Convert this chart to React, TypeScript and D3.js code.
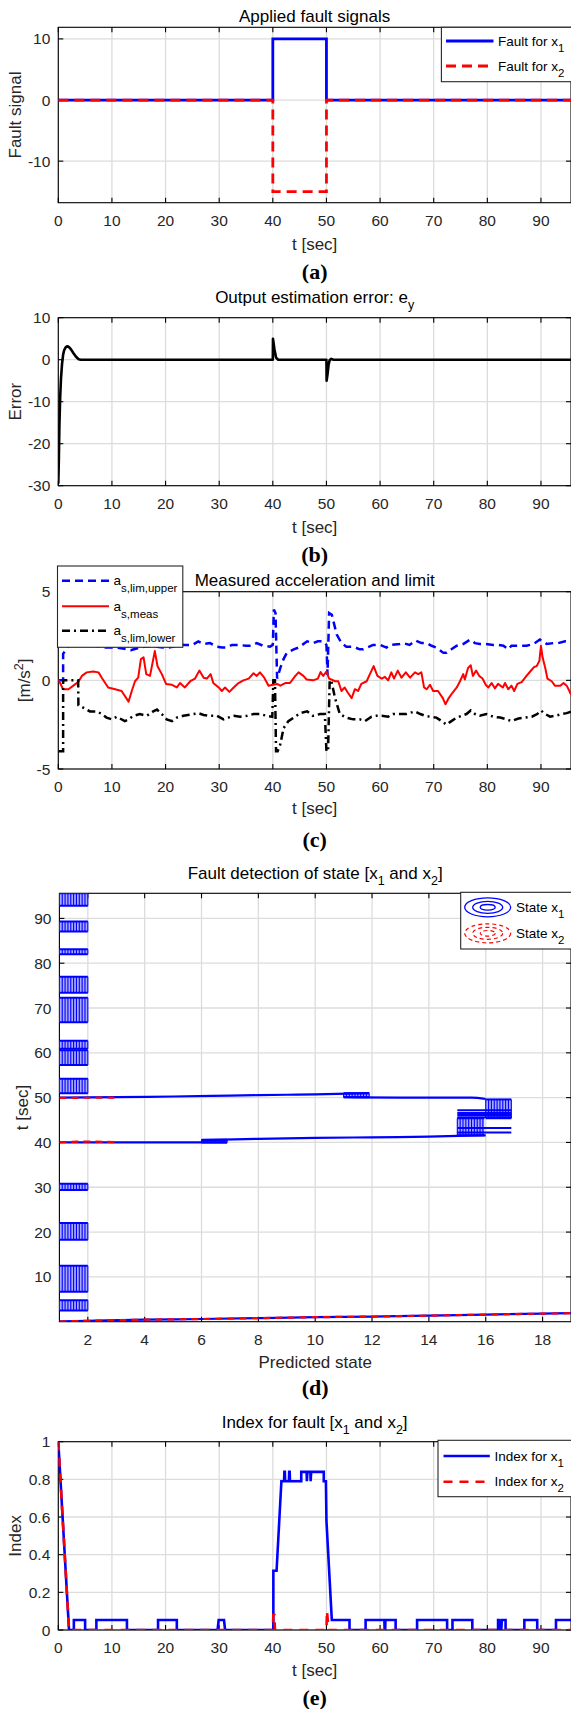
import React from 'react';
import * as d3 from 'd3';

type Pt = [number, number];
type Part = { t: string; sub?: boolean; sup?: boolean };

// ---------------- DATA ----------------
const tEnd = 95.6;
const timeTicks = [0, 10, 20, 30, 40, 50, 60, 70, 80, 90];

// (a) applied fault signals
const faultT = [0, 40, 40, 50, 50, 95.6];
const faultX1 = [0, 0, 10, 10, 0, 0];
const faultX2 = [0, 0, -15, -15, 0, 0];
const faultYTicks = [-10, 0, 10];
const faultYDomain = [-16.8, 11.9];

// (b) output estimation error
const errorEy: Pt[] = [
  [0, -29.5], [0.1, -24], [0.2, -16], [0.35, -9], [0.5, -4.5], [0.7, -1], [0.9, 1.2], [1.1, 2.3],
  [1.4, 3.0], [1.7, 3.2], [2.0, 3.0], [2.4, 2.4], [2.8, 1.6], [3.3, 0.7], [3.8, 0.1], [4.2, 0],
  [40.0, 0], [40.03, 5.0], [40.3, 2.5], [40.6, 0.5], [41.0, 0], [50.0, 0], [50.03, -5.0],
  [50.2, -3.5], [50.4, -1.2], [50.6, -0.1], [50.9, 0.2], [51.3, 0], [95.6, 0],
];
const errorYTicks = [-30, -20, -10, 0, 10];

// (c) measured acceleration and limits
const accUpper: Pt[] = [
  [0, 0], [0.9, 0], [0.9, 1.5], [2, 2.0], [4, 2.0], [6, 2.0], [8.7, 1.85], [10.6, 1.85], [12, 1.8],
  [13.5, 1.7], [14.6, 1.8], [16, 1.9], [17.5, 1.95], [18.4, 1.9], [19.5, 1.85], [20.5, 1.85],
  [21.5, 1.9], [22.4, 2.05], [23.5, 2.0], [25, 2.0], [26.1, 2.2], [27, 2.05], [28.3, 2.1],
  [29.5, 1.9], [30.5, 1.85], [31.4, 1.85], [32.4, 2.0], [33.6, 2.0], [35, 1.95], [36, 1.95],
  [37, 2.1], [38.2, 1.95], [39.5, 1.9], [40.0, 2.0], [40.2, 4.0], [40.5, 3.8], [40.8, 0.1],
  [41.4, 0.7], [42.0, 1.2], [42.6, 1.55], [43.9, 1.75], [44.8, 1.85], [46.4, 2.2], [47.5, 2.1],
  [48.4, 2.2], [49.4, 2.2], [50.0, 2.0], [50.2, 0.3], [50.5, 3.8], [51.0, 3.7], [51.9, 2.6],
  [52.8, 2.1], [53.7, 1.9], [55.0, 1.9], [56.2, 1.75], [56.8, 1.75], [58.7, 2.0], [60.0, 2.0],
  [61.2, 1.85], [61.8, 2.0], [63.7, 2.05], [64.3, 2.1], [65.5, 2.0], [66.6, 2.25], [67.7, 2.1],
  [68.7, 2.1], [69.6, 1.95], [70.5, 1.85], [71.8, 1.55], [72.4, 1.55], [73.3, 1.75], [74.3, 1.95],
  [75.5, 2.05], [76.8, 2.3], [77.7, 2.1], [78.6, 2.05], [79.6, 2.05], [81.1, 2.0], [82, 2.0],
  [83, 1.95], [83.9, 1.75], [84.5, 1.95], [86, 1.95], [87.3, 1.95], [88.6, 2.05], [89.8, 2.3],
  [91.1, 2.05], [92.3, 2.1], [93.2, 2.1], [94.5, 2.2], [95.6, 2.2],
];
const accMeas: Pt[] = [
  [0, 0.05], [0.9, -0.5], [1.9, -0.5], [2.8, -0.3], [3.7, -0.1], [4.4, 0.25], [5.3, 0.45], [6.5, 0.5],
  [7.5, 0.45], [8.1, 0.15], [9.3, -0.4], [10.6, -0.5], [11.8, -0.6], [13.1, -1.2], [13.7, -0.6],
  [14.3, -0.05], [14.9, 0.15], [15.4, 1.2], [15.9, 1.3], [16.4, 0.35], [17.1, 0.25], [18.0, 1.65],
  [18.5, 0.8], [19.3, 0.35], [20.1, -0.2], [21.2, -0.25], [22.1, -0.4], [22.7, -0.15], [23.6, -0.4],
  [24.6, -0.05], [25.5, 0.1], [26.3, 0.55], [27.1, 0.15], [27.7, 0.1], [28.4, 0.35], [28.9, -0.15],
  [29.9, -0.4], [30.5, -0.6], [31.1, -0.4], [31.9, -0.65], [32.7, -0.4], [33.6, -0.15], [34.5, 0],
  [35.5, 0.1], [36.4, 0.4], [37.0, 0.25], [37.6, 0.45], [38.4, 0.15], [39.2, -0.3], [40.0, -0.25],
  [40.8, -0.2], [41.4, -0.3], [42.3, -0.15], [43.2, -0.15], [44.2, 0.25], [44.8, 0.45], [45.7, 0.25],
  [46.3, 0.05], [47.5, 0], [48.4, 0.1], [48.9, 0.47], [49.4, 0.25], [50.0, 0.5], [50.5, 0.1],
  [50.9, 0.05], [51.6, -0.05], [52.2, -0.05], [52.8, -0.6], [53.4, -0.4], [54.0, -0.7], [54.7, -1.0],
  [55.3, -0.5], [55.9, -0.6], [56.5, -0.2], [57.5, -0.05], [58.1, 0.35], [58.8, 0.8], [59.5, 0.25],
  [60.3, 0.1], [60.9, 0.2], [61.5, 0], [62.1, 0.45], [62.6, 0.1], [63.3, 0.55], [64.0, 0.15],
  [64.8, 0.45], [65.6, 0.15], [66.5, 0.45], [67.1, 0.35], [67.7, 0.45], [68.2, -0.4], [68.7, -0.5],
  [69.3, -0.25], [69.9, -0.6], [70.8, -0.6], [71.7, -1.0], [72.2, -1.35], [72.8, -1.0], [73.5, -0.7],
  [74.3, -0.4], [74.9, -0.05], [75.5, 0.35], [75.8, 0.05], [76.4, 0.7], [76.9, 0.85], [77.3, 0.25],
  [77.9, 0.55], [78.5, 0.25], [79.1, 0.1], [79.7, -0.25], [80.2, -0.4], [80.8, -0.15], [81.4, -0.45],
  [82.0, -0.2], [82.9, -0.4], [83.3, -0.15], [83.9, -0.5], [84.5, -0.3], [85.0, -0.6], [85.6, -0.2],
  [86.4, -0.1], [87.3, 0.25], [88.0, 0.5], [88.7, 0.75], [89.2, 0.8], [89.7, 1.1], [90.0, 1.95],
  [90.3, 1.3], [90.8, 0.7], [91.2, 0.1], [92.0, -0.05], [92.6, -0.3], [93.6, -0.3], [94.2, -0.15],
  [94.8, -0.3], [95.3, -0.6], [95.6, -0.8],
];
const accLower: Pt[] = [
  [0, -4], [0.9, -4], [0.9, 0], [3.7, 0], [3.75, -1.4], [4.7, -1.55], [5.9, -1.75], [7.2, -1.75],
  [8.1, -1.9], [9, -2.1], [10, -2.2], [10.9, -2.05], [12.4, -2.3], [13.1, -2.2], [14, -2.0],
  [15.2, -1.9], [16.5, -2.0], [17.7, -1.75], [18.4, -1.65], [19.3, -1.9], [20.2, -2.2], [21.2, -2.3],
  [22.1, -2.1], [23.3, -2.0], [25.2, -1.9], [26.1, -1.85], [27.1, -1.95], [28.3, -2.0], [29.6, -2.0],
  [30.8, -2.2], [31.7, -2.1], [32.7, -2.0], [33.9, -2.05], [35.2, -2.0], [36.4, -1.9], [37.6, -1.9],
  [38.9, -2.0], [39.9, -2.05], [40.1, 0], [40.4, 0], [40.6, -4.0], [40.9, -4.0], [41.4, -3.6],
  [42, -2.7], [42.9, -2.3], [43.9, -2.1], [45.1, -1.85], [46.4, -1.75], [47.5, -2.0], [48.8, -1.9],
  [49.7, -1.9], [50.0, -4.0], [50.3, -4.0], [50.6, 0], [50.9, 0], [51.6, -1.0], [52.5, -1.9],
  [53.7, -2.1], [55, -2.2], [56.2, -2.2], [57.2, -2.3], [58.4, -2.05], [59.3, -2.0], [60.3, -2.0],
  [61.5, -2.05], [62.4, -1.9], [63.7, -1.9], [64.9, -1.9], [66.5, -1.75], [67.5, -1.9], [68.4, -2.0],
  [69.3, -2.05], [70.5, -2.1], [71.5, -2.3], [72.4, -2.5], [73.3, -2.3], [74.3, -2.1], [75.2, -2.0],
  [76.1, -1.9], [76.9, -1.7], [77.7, -1.9], [78.6, -2.0], [79.8, -1.9], [81.1, -2.05], [82.4, -2.1],
  [83.6, -2.2], [84.5, -2.3], [85.8, -2.15], [87.1, -2.1], [88.3, -2.05], [89.3, -1.9], [90, -1.7],
  [90.8, -1.9], [91.7, -2.05], [92.6, -2.0], [93.9, -1.9], [94.8, -1.85], [95.6, -1.77],
];
const accYTicks = [-5, 0, 5];

// (d) fault detection contours: x = predicted state, y = time
const stateTicks = [2, 4, 6, 8, 10, 12, 14, 16, 18];
const detTimeTicks = [10, 20, 30, 40, 50, 60, 70, 80, 90];
const blockS0 = [1, 1, 1, 1, 1, 1, 1, 1, 1, 1, 1, 1, 6, 11, 15, 16];
const blockS1 = [2, 2, 2, 2, 2, 2, 2, 2, 2, 2, 2, 2, 6.9, 11.9, 15.95, 16.9];
const blockT0 = [2.5, 6.7, 18.3, 29.4, 51.0, 57.3, 60.9, 66.8, 73.4, 82.0, 87.1, 92.8, 40.0, 50.1, 41.6, 45.4];
const blockT1 = [4.8, 12.5, 22.0, 30.8, 54.2, 60.6, 62.7, 72.3, 77.0, 83.1, 89.3, 95.6, 40.6, 51.0, 45.4, 49.6];
const x1Bottom: Pt[] = [[1, 0.05], [2, 0.2], [4, 0.45], [6, 0.6], [8, 0.8], [10, 1.0], [12, 1.15], [14, 1.35], [16, 1.6], [18, 1.8], [19, 1.9]];
const x1Line40a: Pt[] = [[1, 40.0], [6.9, 40.0]];
const x1Line40b: Pt[] = [[6, 40.5], [8, 40.8], [10, 41.0], [12, 41.15], [14, 41.3], [15, 41.45], [16, 41.6]];
const x1Line50a: Pt[] = [[1, 50.0], [3, 50.1], [5, 50.25], [7, 50.45], [9, 50.65], [10, 50.75], [11.9, 51.0]];
const x1Line50b: Pt[] = [[11, 50.1], [13, 50.0], [15.5, 50.0], [16, 49.7]];
const segS0 = [15, 15, 15, 15, 15, 15];
const segS1 = [16.9, 16.9, 16.9, 16.9, 16.9, 16.9];
const segT = [42.2, 43.2, 45.6, 46.1, 46.6, 47.2];
const x2Bottom: Pt[] = [[1, 0.05], [2, 0.2], [4, 0.45], [6, 0.6], [8, 0.8], [10, 1.0], [12, 1.15], [14, 1.35], [16, 1.6], [18, 1.8], [19, 1.9]];
const x2Line40: Pt[] = [[1, 40.05], [2, 40.2], [3, 40.05]];
const x2Line50: Pt[] = [[1, 49.95], [3, 50.0]];

// (e) index for fault
const indexX1: Pt[] = [
  [0, 1.0], [2.0, 0], [2.9, 0], [2.9, 0.053], [5.0, 0.053], [5.0, 0], [7.1, 0], [7.1, 0.053], [12.8, 0.053],
  [12.8, 0], [18.6, 0], [18.6, 0.053], [22.1, 0.053], [22.1, 0], [29.7, 0], [29.9, 0.053], [30.9, 0.053],
  [31.1, 0], [40.1, 0], [40.1, 0.315], [40.7, 0.315], [41.6, 0.79], [42.1, 0.79], [42.15, 0.84],
  [42.25, 0.84], [42.3, 0.79], [43.0, 0.79], [43.05, 0.84], [43.15, 0.84], [43.2, 0.79], [45.3, 0.79],
  [45.3, 0.84], [46.3, 0.84], [46.35, 0.79], [46.45, 0.84], [47.0, 0.84], [47.05, 0.79], [47.15, 0.84],
  [49.5, 0.84], [49.5, 0.79], [49.9, 0.79], [50.0, 0.58], [51.0, 0.053], [54.3, 0.053], [54.3, 0],
  [57.3, 0], [57.3, 0.053], [60.8, 0.053], [60.85, 0], [60.95, 0], [61.0, 0.053], [62.9, 0.053],
  [62.9, 0], [66.9, 0], [66.9, 0.053], [72.5, 0.053], [72.5, 0], [73.5, 0], [73.5, 0.053], [77.2, 0.053],
  [77.2, 0], [82.0, 0], [82.0, 0.053], [82.2, 0.053], [82.3, 0], [82.6, 0], [82.7, 0.053], [83.4, 0.053],
  [83.4, 0], [86.9, 0], [86.9, 0.053], [89.3, 0.053], [89.3, 0], [92.8, 0], [92.8, 0.053], [95.6, 0.053],
];
const indexX2: Pt[] = [
  [0, 1.0], [2.0, 0], [40.0, 0], [40.1, 0.08], [40.3, 0.08], [40.4, 0], [50.0, 0], [50.1, 0.1], [50.4, 0], [95.6, 0],
];
const indexYTicks = [0, 0.2, 0.4, 0.6, 0.8, 1];

// ---------------- STYLE / LAYOUT ----------------
const W = 571;
const H = 1709;
const SANS = "'Liberation Sans', Arial, Helvetica, sans-serif";
const SERIF = "'Liberation Serif', 'Times New Roman', serif";
const TICK_FS = 15.5;
const LAB_FS = 17;
const LEG_FS = 13.5;
const BLUE = '#0000ff';
const RED = '#ff0000';
const GRID = '#dcdcdc';

function rich(parts: Part[], fs: number, subFs: number, subDy: number, supDy: number) {
  let shift = 0;
  return parts.map((p, i) => {
    const target = p.sub ? subDy : p.sup ? -supDy : 0;
    const dy = target - shift;
    shift = target;
    return (
      <tspan key={i} dy={dy} fontSize={p.sub || p.sup ? subFs : fs}>
        {p.t}
      </tspan>
    );
  });
}

type FrameProps = {
  id: string;
  L: number; R: number; T: number; B: number;
  xs: d3.ScaleLinear<number, number>;
  ys: d3.ScaleLinear<number, number>;
  xTicks: number[];
  yTicks: number[];
  title: Part[];
  titleY: number;
  xlabel: string;
  xlabelY: number;
  ylabel: Part[];
  ylabelX: number;
  letter: string;
  letterY: number;
  children?: React.ReactNode;
};

function Frame(p: FrameProps) {
  const { L, R, T, B, xs, ys } = p;
  const cx = (L + R) / 2;
  const cy = (T + B) / 2;
  const tk = 5;
  return (
    <g>
      <defs>
        <clipPath id={p.id}>
          <rect x={L} y={T} width={R - L} height={B - T} />
        </clipPath>
      </defs>
      <rect x={L} y={T} width={R - L} height={B - T} fill="#fff" />
      {p.xTicks.map((v) => (
        <line key={'gx' + v} x1={xs(v)} x2={xs(v)} y1={T} y2={B} stroke={GRID} strokeWidth={1.3} />
      ))}
      {p.yTicks.map((v) => (
        <line key={'gy' + v} x1={L} x2={R} y1={ys(v)} y2={ys(v)} stroke={GRID} strokeWidth={1.3} />
      ))}
      <rect x={L} y={T} width={R - L} height={B - T} fill="none" stroke="#000" strokeWidth={1.1} />
      {p.xTicks.map((v) => (
        <g key={'tx' + v}>
          <line x1={xs(v)} x2={xs(v)} y1={B} y2={B - tk} stroke="#000" strokeWidth={1.1} />
          <line x1={xs(v)} x2={xs(v)} y1={T} y2={T + tk} stroke="#000" strokeWidth={1.1} />
          <text x={xs(v)} y={B + 18 + TICK_FS * 0.35} textAnchor="middle" fontSize={TICK_FS} fontFamily={SANS} fill="#262626">
            {String(v)}
          </text>
        </g>
      ))}
      {p.yTicks.map((v) => (
        <g key={'ty' + v}>
          <line x1={L} x2={L + tk} y1={ys(v)} y2={ys(v)} stroke="#000" strokeWidth={1.1} />
          <line x1={R} x2={R - tk} y1={ys(v)} y2={ys(v)} stroke="#000" strokeWidth={1.1} />
          <text x={L - 8} y={ys(v) + TICK_FS * 0.36} textAnchor="end" fontSize={TICK_FS} fontFamily={SANS} fill="#262626">
            {String(v)}
          </text>
        </g>
      ))}
      <g clipPath={`url(#${p.id})`}>{p.children}</g>
      <text x={cx} y={p.titleY + LAB_FS * 0.35} textAnchor="middle" fontFamily={SANS} fill="#000" style={{ whiteSpace: 'pre' }}>
        {rich(p.title, LAB_FS, 12.5, 6, 7)}
      </text>
      <text x={cx} y={p.xlabelY + LAB_FS * 0.35} textAnchor="middle" fontSize={LAB_FS} fontFamily={SANS} fill="#262626">
        {p.xlabel}
      </text>
      <text
        transform={`translate(${p.ylabelX + LAB_FS * 0.35},${cy}) rotate(-90)`}
        textAnchor="middle"
        fontFamily={SANS}
        fill="#262626"
        style={{ whiteSpace: 'pre' }}
      >
        {rich(p.ylabel, LAB_FS, 12.5, 6, 7)}
      </text>
      <text x={cx} y={p.letterY + 7} textAnchor="middle" fontSize={22} fontWeight="bold" fontFamily={SERIF} fill="#000">
        {p.letter}
      </text>
    </g>
  );
}

type LegItem = { y: number; parts: Part[]; stroke: string; width: number; dash?: string };

function LineLegend(props: { x: number; y: number; w: number; h: number; lx0: number; lx1: number; tx: number; items: LegItem[]; subDy?: number }) {
  return (
    <g>
      <rect x={props.x} y={props.y} width={props.w} height={props.h} fill="#fff" stroke="#262626" strokeWidth={1.1} />
      {props.items.map((it, i) => (
        <g key={i}>
          <line x1={props.lx0} x2={props.lx1} y1={it.y} y2={it.y} stroke={it.stroke} strokeWidth={it.width} strokeDasharray={it.dash} />
          <text x={props.tx} y={it.y + LEG_FS * 0.35} fontFamily={SANS} fill="#000" style={{ whiteSpace: 'pre' }}>
            {rich(it.parts, LEG_FS, 11.5, props.subDy ?? 6, 6)}
          </text>
        </g>
      ))}
    </g>
  );
}

export default function App() {
  const PL = 58.3;
  const PR = 571;
  const xT = d3.scaleLinear().domain([0, tEnd]).range([PL, PR]);

  // (a)
  const aT = 27.3, aB = 202.7;
  const yA = d3.scaleLinear().domain(faultYDomain).range([aB, aT]);
  const lineA = d3.line<number>().x((_, i) => xT(faultT[i])).y((d) => yA(d));

  // (b)
  const bT = 317.7, bB = 485.7;
  const yB = d3.scaleLinear().domain([-30, 10]).range([bB, bT]);
  const lineB = d3.line<Pt>().x((d) => xT(d[0])).y((d) => yB(d[1]));

  // (c)
  const cT = 591.7, cB = 769;
  const yC = d3.scaleLinear().domain([-5, 5]).range([cB, cT]);
  const lineC = d3.line<Pt>().x((d) => xT(d[0])).y((d) => yC(d[1]));

  // (d)
  const dL = 59.4, dT = 893.3, dB = 1321.7;
  const xD = d3.scaleLinear().domain([1, 19]).range([dL, PR]);
  const yD = d3.scaleLinear().domain([0, tEnd]).range([dB, dT]);
  const lineD = d3.line<Pt>().x((d) => xD(d[0])).y((d) => yD(d[1])).curve(d3.curveMonotoneX);

  // (e)
  const eT = 1441.7, eB = 1630;
  const yE = d3.scaleLinear().domain([0, 1]).range([eB, eT]);
  const lineE = d3.line<Pt>().x((d) => xT(d[0])).y((d) => yE(d[1]));

  const hatch = blockS0.map((s0, i) => {
    const s1 = blockS1[i];
    const x0 = xD(s0), x1 = xD(s1);
    const y0 = yD(blockT1[i]), y1 = yD(blockT0[i]);
    const stripes = d3.range(s0, s1 + 1e-6, 0.1);
    return (
      <g key={'blk' + i}>
        <rect x={x0} y={y0} width={x1 - x0} height={y1 - y0} fill="#a8a8ff" />
        {stripes.map((s, k) => (
          <line key={k} x1={xD(s)} x2={xD(s)} y1={y0} y2={y1} stroke={BLUE} strokeWidth={1.1} />
        ))}
        <line x1={x0} x2={x1} y1={y0} y2={y0} stroke={BLUE} strokeWidth={2} />
        <line x1={x0} x2={x1} y1={y1} y2={y1} stroke={BLUE} strokeWidth={2} />
      </g>
    );
  });

  return (
    <svg width={W} height={H} viewBox={`0 0 ${W} ${H}`} style={{ position: 'absolute', left: 0, top: 0, background: '#fff' }}>
      <rect x={0} y={0} width={W} height={H} fill="#fff" />

      {/* (a) */}
      <Frame id="clipA" L={PL} R={PR} T={aT} B={aB} xs={xT} ys={yA} xTicks={timeTicks} yTicks={faultYTicks}
        title={[{ t: 'Applied fault signals' }]} titleY={15.7} xlabel="t [sec]" xlabelY={244.3}
        ylabel={[{ t: 'Fault signal' }]} ylabelX={15.3} letter="(a)" letterY={271.7}>
        <path d={lineA(faultX1) || ''} fill="none" stroke={BLUE} strokeWidth={2.8} />
        <path d={lineA(faultX2) || ''} fill="none" stroke={RED} strokeWidth={2.8} strokeDasharray="10 6" />
      </Frame>
      <LineLegend x={441.4} y={aT} w={131} h={54.4} lx0={446} lx1={493.5} tx={498}
        items={[
          { y: 41, parts: [{ t: 'Fault for x' }, { t: '1', sub: true }], stroke: BLUE, width: 2.8 },
          { y: 66, parts: [{ t: 'Fault for x' }, { t: '2', sub: true }], stroke: RED, width: 2.8, dash: '10 6' },
        ]} />

      {/* (b) */}
      <Frame id="clipB" L={PL} R={PR} T={bT} B={bB} xs={xT} ys={yB} xTicks={timeTicks} yTicks={errorYTicks}
        title={[{ t: 'Output estimation error: e' }, { t: 'y', sub: true }]} titleY={297.3} xlabel="t [sec]" xlabelY={526.7}
        ylabel={[{ t: 'Error' }]} ylabelX={15.3} letter="(b)" letterY={555}>
        <path d={lineB(errorEy) || ''} fill="none" stroke="#000" strokeWidth={2.6} strokeLinejoin="round" />
      </Frame>

      {/* (c) */}
      <Frame id="clipC" L={PL} R={PR} T={cT} B={cB} xs={xT} ys={yC} xTicks={timeTicks} yTicks={accYTicks}
        title={[{ t: 'Measured acceleration and limit' }]} titleY={580} xlabel="t [sec]" xlabelY={808.3}
        ylabel={[{ t: '[m/s' }, { t: '2', sup: true }, { t: ']' }]} ylabelX={23.7} letter="(c)" letterY={840}>
        <path d={lineC(accUpper) || ''} fill="none" stroke={BLUE} strokeWidth={2.5} strokeDasharray="8 5" />
        <path d={lineC(accMeas) || ''} fill="none" stroke={RED} strokeWidth={2} strokeLinejoin="round" />
        <path d={lineC(accLower) || ''} fill="none" stroke="#000" strokeWidth={2.5} strokeDasharray="8 4 2 4" />
      </Frame>
      <LineLegend x={57.5} y={566} w={125.3} h={81.3} lx0={62} lx1={109} tx={113.6} subDy={7}
        items={[
          { y: 580.7, parts: [{ t: 'a' }, { t: 's,lim,upper', sub: true }], stroke: BLUE, width: 2.5, dash: '8 5' },
          { y: 606.3, parts: [{ t: 'a' }, { t: 's,meas', sub: true }], stroke: RED, width: 2 },
          { y: 630.7, parts: [{ t: 'a' }, { t: 's,lim,lower', sub: true }], stroke: '#000', width: 2.5, dash: '8 4 2 4' },
        ]} />

      {/* (d) */}
      <Frame id="clipD" L={dL} R={PR} T={dT} B={dB} xs={xD} ys={yD} xTicks={stateTicks} yTicks={detTimeTicks}
        title={[{ t: 'Fault detection of state [x' }, { t: '1', sub: true }, { t: ' and x' }, { t: '2', sub: true }, { t: ']' }]}
        titleY={873.3} xlabel="Predicted state" xlabelY={1362}
        ylabel={[{ t: 't [sec]' }]} ylabelX={21.7} letter="(d)" letterY={1388.3}>
        {hatch}
        {[x1Bottom, x1Line40a, x1Line40b, x1Line50a, x1Line50b].map((l, i) => (
          <path key={'x1l' + i} d={lineD(l) || ''} fill="none" stroke={BLUE} strokeWidth={2.2} />
        ))}
        {segT.map((t, i) => (
          <line key={'seg' + i} x1={xD(segS0[i])} x2={xD(segS1[i])} y1={yD(t)} y2={yD(t)} stroke={BLUE} strokeWidth={2} />
        ))}
        {[x2Bottom, x2Line40, x2Line50].map((l, i) => (
          <path key={'x2l' + i} d={lineD(l) || ''} fill="none" stroke={RED} strokeWidth={2.2} strokeDasharray="7 5" />
        ))}
      </Frame>
      <g>
        <rect x={460.7} y={892.3} width={112} height={56.7} fill="#fff" stroke="#262626" strokeWidth={1.1} />
        {[23, 15, 7.5].map((rx, i) => (
          <ellipse key={'e1' + i} cx={487.7} cy={907.3} rx={rx} ry={[9.5, 6, 2.8][i]} fill="none" stroke={BLUE} strokeWidth={1.3} />
        ))}
        {[23, 15, 7.5].map((rx, i) => (
          <ellipse key={'e2' + i} cx={487.7} cy={933.3} rx={rx} ry={[9.5, 6, 2.8][i]} fill="none" stroke={RED} strokeWidth={1.2} strokeDasharray="4 3" />
        ))}
        <text x={516} y={907.3 + LEG_FS * 0.35} fontFamily={SANS} fill="#000">
          {rich([{ t: 'State x' }, { t: '1', sub: true }], LEG_FS, 11.5, 6, 6)}
        </text>
        <text x={516} y={933.3 + LEG_FS * 0.35} fontFamily={SANS} fill="#000">
          {rich([{ t: 'State x' }, { t: '2', sub: true }], LEG_FS, 11.5, 6, 6)}
        </text>
      </g>

      {/* (e) */}
      <Frame id="clipE" L={PL} R={PR} T={eT} B={eB} xs={xT} ys={yE} xTicks={timeTicks} yTicks={indexYTicks}
        title={[{ t: 'Index for fault [x' }, { t: '1', sub: true }, { t: ' and x' }, { t: '2', sub: true }, { t: ']' }]}
        titleY={1421.7} xlabel="t [sec]" xlabelY={1670}
        ylabel={[{ t: 'Index' }]} ylabelX={15.3} letter="(e)" letterY={1698.3}>
        <path d={lineE(indexX1) || ''} fill="none" stroke={BLUE} strokeWidth={2.6} />
        <path d={lineE(indexX2) || ''} fill="none" stroke={RED} strokeWidth={2.6} strokeDasharray="9 7" />
      </Frame>
      <LineLegend x={438} y={1440.3} w={134} h={56.4} lx0={443.5} lx1={489.8} tx={494.5}
        items={[
          { y: 1456, parts: [{ t: 'Index for x' }, { t: '1', sub: true }], stroke: BLUE, width: 2.6 },
          { y: 1481.7, parts: [{ t: 'Index for x' }, { t: '2', sub: true }], stroke: RED, width: 2.6, dash: '9 7' },
        ]} />
    </svg>
  );
}
